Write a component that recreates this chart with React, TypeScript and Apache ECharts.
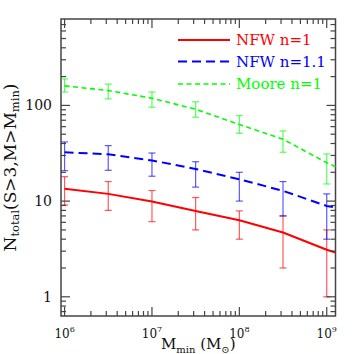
import React, { useEffect, useRef } from 'react';
import * as echarts from 'echarts';

// ---- data ----
const massPoints = [1e6, 3.16e6, 1e7, 3.16e7, 1e8, 3.16e8, 1e9];
const lineEndMass = 1.26e9;

const nfw1Mean = [13.5, 11.9, 9.9, 7.9, 6.3, 4.7, 3.1];
const nfw1Low = [9.1, 8.0, 6.1, 5.0, 4.0, 2.0, 1.0];
const nfw1High = [18.0, 16.0, 12.9, 10.9, 7.9, 7.0, 5.0];
const nfw1End = 2.9;

const nfw11Mean = [32.4, 30.9, 26.6, 21.7, 16.9, 12.8, 8.9];
const nfw11Low = [20.8, 21.0, 18.2, 14.0, 10.0, 7.0, 4.0];
const nfw11High = [41.5, 38.0, 31.8, 25.8, 20.0, 16.0, 11.9];
const nfw11End = 8.6;

const mooreMean = [160, 143, 119, 91.2, 63.2, 44.3, 25.2];
const mooreLow = [138, 117, 95.8, 75.3, 51.2, 32.4, 15.1];
const mooreHigh = [189, 167, 138, 109, 78.2, 54.1, 31.1];
const mooreEnd = 22.9;

const seriesNames = ['NFW n=1', 'NFW n=1.1', 'Moore n=1'];
const seriesColors = ['#ff0000', '#0000ff', '#00ff00'];
const seriesDash: (number[] | null)[] = [null, [9, 5], [5, 3.5]];
const seriesWidth = [2, 2, 1.6];

const xMajorTicks = [1e6, 1e7, 1e8, 1e9];
const yMajorTicks = [1, 10, 100];
const xRange = [9.1e5, 1.26e9];
const yRange = [0.63, 800];

const FONT = 'DejaVu Serif';
const FRAME = '#444444';

function minorTicks(majors: number[], lo: number, hi: number) {
  const out: number[] = [];
  const decades = [majors[0] / 10, ...majors];
  decades.forEach((d) => {
    for (let k = 2; k <= 9; k++) {
      const v = d * k;
      if (v > lo && v < hi) out.push(v);
    }
  });
  return out;
}

function isPow10(v: number) {
  const l = Math.log10(v);
  return Math.abs(l - Math.round(l)) < 1e-6;
}

export default function App() {
  const ref = useRef<HTMLDivElement>(null);

  useEffect(() => {
    if (!ref.current) return;
    const chart = echarts.init(ref.current, undefined, { renderer: 'svg' });

    const lineData = (mean: number[], end: number) => [
      ...massPoints.map((x, i) => [x, mean[i]]),
      [lineEndMass, end],
    ];
    const errData = (lo: number[], hi: number[]) =>
      massPoints.map((x, i) => [x, lo[i], hi[i]]);

    const errSeries = (name: string, color: string, lo: number[], hi: number[]) => ({
      type: 'custom',
      name: name + ' err',
      data: errData(lo, hi),
      encode: { x: 0, y: [1, 2] },
      z: 2,
      renderItem: (params: any, api: any) => {
        const x = api.value(0);
        const pLo = api.coord([x, api.value(1)]);
        const pHi = api.coord([x, api.value(2)]);
        const w = 3.5;
        const style = { stroke: color, lineWidth: 1.2, opacity: 0.65 };
        return {
          type: 'group',
          children: [
            { type: 'line', shape: { x1: pLo[0], y1: pLo[1], x2: pHi[0], y2: pHi[1] }, style },
            { type: 'line', shape: { x1: pLo[0] - w, y1: pLo[1], x2: pLo[0] + w, y2: pLo[1] }, style },
            { type: 'line', shape: { x1: pHi[0] - w, y1: pHi[1], x2: pHi[0] + w, y2: pHi[1] }, style },
          ],
        };
      },
    });

    const xTicks = [
      ...xMajorTicks.map((v) => [v, 1, 1]),
      ...minorTicks(xMajorTicks, xRange[0], xRange[1]).map((v) => [v, 1, 0]),
    ];
    const yTicks = [
      ...yMajorTicks.map((v) => [1e7, v, 1]),
      ...minorTicks(yMajorTicks, yRange[0], yRange[1]).map((v) => [1e7, v, 0]),
    ];

    const tickStyle = { stroke: FRAME, lineWidth: 1.2 };

    const legendRowsY = [40, 61.5, 84];
    const legendGraphics: any[] = [];
    seriesNames.forEach((n, i) => {
      const y = legendRowsY[i];
      legendGraphics.push({
        type: 'line',
        shape: { x1: 178, y1: y, x2: 230, y2: y },
        style: {
          stroke: seriesColors[i],
          lineWidth: seriesWidth[i],
          lineDash: seriesDash[i] || undefined,
        },
      });
      legendGraphics.push({
        type: 'text',
        x: 236,
        y: y,
        style: {
          text: n,
          fill: seriesColors[i],
          font: `15px "${FONT}"`,
          verticalAlign: 'middle',
          align: 'left',
        },
      });
    });

    const option: any = {
      animation: false,
      grid: {
        left: 61,
        top: 19,
        right: 18.5,
        bottom: 38,
        show: true,
        containLabel: false,
        outerBoundsMode: 'none',
        borderColor: FRAME,
        borderWidth: 1.5,
        backgroundColor: 'transparent',
      },
      graphic: legendGraphics,
      xAxis: {
        type: 'log',
        min: xRange[0],
        max: xRange[1],
        axisLine: { show: false },
        axisTick: { show: false },
        splitLine: { show: false },
        axisLabel: {
          margin: 9,
          color: '#111',
          fontFamily: FONT,
          fontSize: 12,
          formatter: (v: number) => (isPow10(v) ? '10{sup|' + Math.round(Math.log10(v)) + '}' : ''),
          rich: {
            sup: { fontFamily: FONT, fontSize: 8, color: '#111', padding: [0, 0, 9, 0] },
          },
        },
        name: 'M{sub|min} (M{sub|⊙})',
        nameLocation: 'middle',
        nameGap: 18,
        nameMoveOverlap: false,
        nameTextStyle: {
          fontFamily: FONT,
          fontSize: 15,
          color: '#111',
          rich: {
            sub: { fontFamily: FONT, fontSize: 10, color: '#111', padding: [10, 0, 0, 0] },
          },
        },
      },
      yAxis: {
        type: 'log',
        min: yRange[0],
        max: yRange[1],
        axisLine: { show: false },
        axisTick: { show: false },
        splitLine: { show: false },
        axisLabel: {
          margin: 9,
          color: '#111',
          fontFamily: FONT,
          fontSize: 14,
          formatter: (v: number) => (isPow10(v) ? String(Math.round(v)) : ''),
        },
        name: 'N{sub|total}(S>3,M>M{sub|min})',
        nameLocation: 'middle',
        nameRotate: 90,
        nameGap: 40,
        nameMoveOverlap: false,
        nameTextStyle: {
          fontFamily: FONT,
          fontSize: 17,
          color: '#111',
          rich: {
            sub: { fontFamily: FONT, fontSize: 11.5, color: '#111', padding: [11, 0, 0, 0] },
          },
        },
      },
      series: [
        errSeries(seriesNames[0], seriesColors[0], nfw1Low, nfw1High),
        errSeries(seriesNames[1], seriesColors[1], nfw11Low, nfw11High),
        errSeries(seriesNames[2], seriesColors[2], mooreLow, mooreHigh),
        ...seriesNames.map((n, i) => ({
          type: 'line',
          name: n,
          data: [
            lineData(nfw1Mean, nfw1End),
            lineData(nfw11Mean, nfw11End),
            lineData(mooreMean, mooreEnd),
          ][i],
          symbol: 'none',
          z: 3,
          lineStyle: { color: seriesColors[i], width: seriesWidth[i], type: seriesDash[i] || 'solid' },
          itemStyle: { color: seriesColors[i] },
        })),
        {
          type: 'custom',
          name: 'xticks',
          data: xTicks,
          z: 5,
          clip: false,
          renderItem: (params: any, api: any) => {
            const cs = params.coordSys;
            const p = api.coord([api.value(0), 1]);
            const len = api.value(2) ? 9 : 5;
            const bottom = cs.y + cs.height;
            return {
              type: 'group',
              children: [
                { type: 'line', shape: { x1: p[0], y1: bottom, x2: p[0], y2: bottom - len }, style: tickStyle },
                { type: 'line', shape: { x1: p[0], y1: cs.y, x2: p[0], y2: cs.y + len }, style: tickStyle },
              ],
            };
          },
        },
        {
          type: 'custom',
          name: 'yticks',
          data: yTicks,
          z: 5,
          clip: false,
          renderItem: (params: any, api: any) => {
            const cs = params.coordSys;
            const p = api.coord([1e7, api.value(1)]);
            const len = api.value(2) ? 9 : 5;
            const right = cs.x + cs.width;
            return {
              type: 'group',
              children: [
                { type: 'line', shape: { x1: cs.x, y1: p[1], x2: cs.x + len, y2: p[1] }, style: tickStyle },
                { type: 'line', shape: { x1: right, y1: p[1], x2: right - len, y2: p[1] }, style: tickStyle },
              ],
            };
          },
        },
      ],
    };

    chart.setOption(option);
    return () => chart.dispose();
  }, []);

  return (
    <div
      ref={ref}
      style={{ position: 'fixed', left: 0, top: 0, width: 354, height: 354, background: '#fff' }}
    />
  );
}
